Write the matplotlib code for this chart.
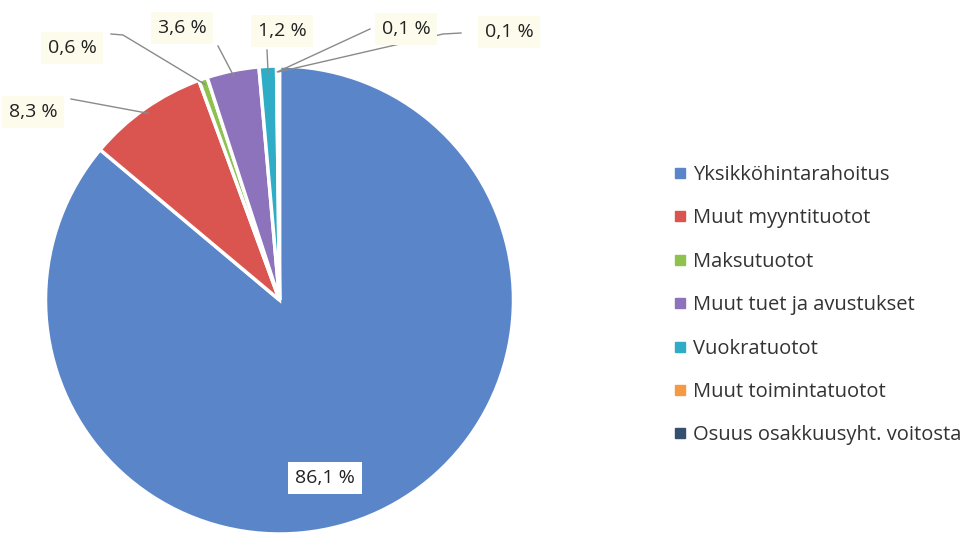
import numpy as np
import matplotlib.pyplot as plt
from matplotlib.lines import Line2D

plt.rcParams['font.family'] = ['Open Sans', 'DejaVu Sans']

# data
categories = ["Yksikköhintarahoitus", "Muut myyntituotot", "Maksutuotot",
              "Muut tuet ja avustukset", "Vuokratuotot", "Muut toimintatuotot",
              "Osuus osakkuusyht. voitosta"]
shares = [86.1, 8.3, 0.6, 3.6, 1.2, 0.1, 0.1]
labels = ["86,1 %", "8,3 %", "0,6 %", "3,6 %", "1,2 %", "0,1 %", "0,1 %"]
colors = ["#5a86c9", "#db5550", "#8dc24f", "#8d73bc", "#2fadc6", "#f59a44", "#34506e"]

W, H = 963, 533
fig = plt.figure(figsize=(W / 100, H / 100), dpi=100)
ax = fig.add_axes([0, 0, 1, 1])

cx, cy, r = 279.5, H - 300, 234

wedges, _ = ax.pie(shares, colors=colors, startangle=90, counterclock=False,
                   center=(cx, cy), radius=r, frame=True,
                   wedgeprops=dict(edgecolor="white", linewidth=2.5))
ax.set_xlim(0, W)
ax.set_ylim(0, H)
ax.axis("off")

# label positions (pixel coords, y from top) and leader bends
label_pos = [(325, 478), (33, 112), (72, 48), (182, 28), (282, 31), (406, 29), (509, 32)]
leader_start = [None, (71, 99), (111, 34), (218, 46), (267, 50), (370, 29), (443, 34)]
leader_extra = [None, None, (123, 35), None, None, None, (461, 33)]

for i, w in enumerate(wedges):
    lx, ly = label_pos[i]
    if i == 0:
        ax.text(lx, H - ly, labels[i], ha="center", va="center", fontsize=14,
                color="#222222",
                bbox=dict(boxstyle="square,pad=0.35", fc="white", ec="none"))
        continue
    mid = np.deg2rad((w.theta1 + w.theta2) / 2)
    ex, ey = cx + 0.975 * r * np.cos(mid), cy + 0.975 * r * np.sin(mid)
    sx, sy = leader_start[i]
    xs, ys = [sx, ex], [H - sy, ey]
    if leader_extra[i] is not None:
        if i == 2:
            xs = [sx, leader_extra[i][0], ex]
            ys = [H - sy, H - leader_extra[i][1], ey]
        else:
            xs = [leader_extra[i][0]] + xs
            ys = [H - leader_extra[i][1]] + ys
    ax.plot(xs, ys, color="#8a8a8a", lw=1.0)
    ax.text(lx, H - ly, labels[i], ha="center", va="center", fontsize=14,
            color="#222222",
            bbox=dict(boxstyle="square,pad=0.35", fc="#fdfbec", ec="none"))

handles = [Line2D([], [], marker="s", ls="none", markersize=6.5, color=c) for c in colors]
ax.legend(handles, categories, loc="upper left", bbox_to_anchor=(654 / W, 1 - 147 / H),
          frameon=False, fontsize=14.5, labelspacing=1.16, handletextpad=0.25,
          handlelength=0.8, labelcolor="#333333")

fig.savefig("out.png", dpi=100)
